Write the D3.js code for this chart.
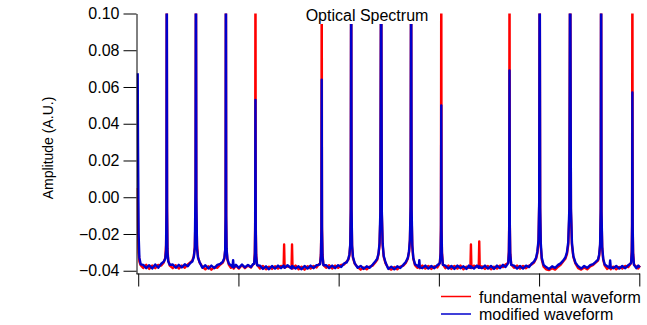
<!DOCTYPE html>
<html>
<head>
<meta charset="utf-8">
<script src="https://cdn.jsdelivr.net/npm/d3@7"></script>
<style>
  html, body { margin: 0; padding: 0; background: #ffffff; }
  svg { display: block; font-family: "Liberation Sans", Arial, sans-serif; }
</style>
</head>
<body>
<svg id="chart" width="647" height="325"></svg>
<script>
// ---- Data ----
// Frequency positions (arbitrary units, one unlabeled tick per unit)
const freq = [
  -0.005, -0.002, 0.004, 0.012, 0.025,
  0.05, 0.08, 0.11, 0.14, 0.17, 0.20, 0.23,
  0.255, 0.270, 0.278, 0.282, 0.285, 0.288, 0.292, 0.300, 0.315,
  0.345, 0.375, 0.405, 0.435, 0.465, 0.495, 0.520,
  0.540, 0.555, 0.565, 0.572, 0.576, 0.580, 0.587, 0.597, 0.612,
  0.640, 0.670, 0.700, 0.730, 0.760, 0.790, 0.820,
  0.845, 0.860, 0.868, 0.872, 0.875, 0.878, 0.882, 0.890, 0.905,
  0.925, 0.941, 0.947, 0.953, 0.975, 1.005, 1.035, 1.065, 1.095, 1.125, 1.145,
  1.157, 1.164, 1.167, 1.170, 1.173, 1.177, 1.186,
  1.215, 1.245, 1.275, 1.305, 1.335, 1.365, 1.395, 1.425, 1.451, 1.456, 1.461, 1.490, 1.530, 1.535, 1.540, 1.570, 1.600, 1.630, 1.660, 1.690, 1.720, 1.750, 1.780, 1.800,
  1.815, 1.823, 1.828, 1.831, 1.834, 1.839, 1.848,
  1.875, 1.905, 1.935, 1.965, 1.995, 2.025, 2.055, 2.080,
  2.097, 2.108, 2.116, 2.121, 2.125, 2.129, 2.134, 2.143, 2.160,
  2.190, 2.220, 2.250, 2.280, 2.310, 2.340, 2.365,
  2.385, 2.398, 2.408, 2.416, 2.424, 2.431, 2.439, 2.450, 2.468,
  2.495, 2.525, 2.555, 2.585, 2.615, 2.645, 2.670,
  2.690, 2.702, 2.711, 2.718, 2.723, 2.728, 2.735, 2.745, 2.762,
  2.785, 2.800, 2.805, 2.810, 2.835, 2.865, 2.895, 2.925, 2.955, 2.985, 3.003,
  3.010, 3.017, 3.021, 3.024, 3.027, 3.031, 3.040,
  3.065, 3.095, 3.125, 3.155, 3.185, 3.215, 3.245, 3.275, 3.300, 3.315, 3.320, 3.325, 3.350, 3.380, 3.398, 3.403, 3.408, 3.430, 3.460, 3.490, 3.520, 3.550, 3.580, 3.610, 3.640, 3.665, 3.685,
  3.692, 3.699, 3.702, 3.705, 3.708, 3.712, 3.722,
  3.750, 3.780, 3.810, 3.840, 3.870, 3.900, 3.925, 3.950,
  3.970, 3.983, 3.994, 4.001, 4.006, 4.011, 4.017, 4.027, 4.045,
  4.070, 4.100, 4.130, 4.160, 4.190, 4.215, 4.240,
  4.262, 4.278, 4.291, 4.302, 4.310, 4.318, 4.328, 4.342, 4.362,
  4.390, 4.420, 4.450, 4.480, 4.510, 4.540, 4.565,
  4.588, 4.600, 4.609, 4.615, 4.619, 4.623, 4.630, 4.640, 4.655,
  4.680, 4.703, 4.709, 4.715, 4.740, 4.770, 4.800, 4.830, 4.860, 4.890, 4.910,
  4.918, 4.925, 4.928, 4.931, 4.934, 4.938, 4.947,
  4.970, 4.990, 5.005
];

// fundamental waveform amplitude (A.U.)
const fundamental = [
  0.005, -0.012, -0.030, -0.035, -0.037,
  -0.0385, -0.0368, -0.0390, -0.0372, -0.0386, -0.0368, -0.0372,
  -0.0355, -0.0330, -0.026, -0.005, 0.15, -0.005, -0.028, -0.0345, -0.0372,
  -0.0386, -0.0370, -0.0388, -0.0372, -0.0384, -0.0366, -0.0355,
  -0.0345, -0.0320, -0.0270, -0.0100, 0.15, -0.008, -0.026, -0.0325, -0.0355,
  -0.0378, -0.0392, -0.0376, -0.0394, -0.0380, -0.0384, -0.0366,
  -0.0355, -0.0335, -0.0290, -0.012, 0.15, -0.012, -0.029, -0.0340, -0.0368,
  -0.0384, -0.0370, -0.0378, -0.0388, -0.0372, -0.0388, -0.0370, -0.0386, -0.0372, -0.0382, -0.0368,
  -0.0360, -0.030, -0.015, 0.15, -0.015, -0.031, -0.0368,
  -0.0388, -0.0374, -0.0392, -0.0378, -0.0390, -0.0376, -0.0388, -0.0374, -0.0380, -0.0257, -0.0382, -0.0376, -0.0384, -0.0257, -0.0388, -0.0372, -0.0392, -0.0378, -0.0394, -0.0376, -0.0388, -0.0374, -0.0382, -0.0366,
  -0.0360, -0.031, -0.016, 0.15, -0.016, -0.031, -0.0368,
  -0.0384, -0.0370, -0.0388, -0.0372, -0.0384, -0.0368, -0.0366, -0.0350,
  -0.0340, -0.0315, -0.0260, -0.008, 0.15, -0.008, -0.027, -0.0330, -0.0362,
  -0.0380, -0.0394, -0.0382, -0.0392, -0.0378, -0.0372, -0.0355,
  -0.0340, -0.0310, -0.0260, -0.012, 0.15, -0.010, -0.026, -0.0325, -0.0360,
  -0.0385, -0.0394, -0.0380, -0.0392, -0.0378, -0.0372, -0.0358,
  -0.0335, -0.0300, -0.0240, -0.008, 0.15, -0.010, -0.027, -0.0335, -0.0370,
  -0.0384, -0.0372, -0.0378, -0.0386, -0.0372, -0.0388, -0.0374, -0.0390, -0.0376, -0.0382, -0.0365,
  -0.0355, -0.030, -0.015, 0.15, -0.015, -0.030, -0.0365,
  -0.0386, -0.0372, -0.0390, -0.0374, -0.0388, -0.0372, -0.0392, -0.0378, -0.0384, -0.0380, -0.0257, -0.0386, -0.0372, -0.0380, -0.0376, -0.0240, -0.0384, -0.0376, -0.0390, -0.0374, -0.0392, -0.0378, -0.0388, -0.0372, -0.0380, -0.0366, -0.0360,
  -0.0355, -0.029, -0.014, 0.15, -0.014, -0.030, -0.0366,
  -0.0384, -0.0372, -0.0388, -0.0374, -0.0386, -0.0372, -0.0366, -0.0355,
  -0.0335, -0.0305, -0.0245, -0.005, 0.15, -0.008, -0.027, -0.0340, -0.0378,
  -0.0392, -0.0396, -0.0386, -0.0394, -0.0378, -0.0368, -0.0350,
  -0.0335, -0.0310, -0.0260, -0.010, 0.15, -0.008, -0.026, -0.0325, -0.0360,
  -0.0386, -0.0394, -0.0382, -0.0392, -0.0376, -0.0368, -0.0356,
  -0.0345, -0.0318, -0.0265, -0.008, 0.15, -0.010, -0.028, -0.0340, -0.0372,
  -0.0390, -0.0376, -0.0384, -0.0392, -0.0378, -0.0392, -0.0380, -0.0388, -0.0374, -0.0380, -0.0365,
  -0.0355, -0.029, -0.014, 0.15, -0.014, -0.030, -0.0366,
  -0.0378, -0.0388, -0.0372
];

// modified waveform amplitude (A.U.)
const modified = [
  0.0675, 0.030, -0.020, -0.033, -0.0365,
  -0.0368, -0.0386, -0.0370, -0.0388, -0.0366, -0.0384, -0.0362,
  -0.0350, -0.0335, -0.029, -0.008, 0.15, -0.008, -0.030, -0.0350, -0.0368,
  -0.0366, -0.0384, -0.0368, -0.0382, -0.0365, -0.0375, -0.0358,
  -0.0350, -0.0325, -0.0275, 0.006, 0.15, 0.000, -0.028, -0.0330, -0.0352,
  -0.0384, -0.0370, -0.0388, -0.0372, -0.0386, -0.0368, -0.0362,
  -0.0350, -0.0330, -0.0285, -0.010, 0.15, -0.010, -0.028, -0.0335, -0.0362,
  -0.0370, -0.0380, -0.0342, -0.0382, -0.0368, -0.0384, -0.0366, -0.0382, -0.0368, -0.0380, -0.0364,
  -0.0362, -0.031, -0.018, 0.053, -0.018, -0.032, -0.0370,
  -0.0372, -0.0390, -0.0376, -0.0392, -0.0374, -0.0388, -0.0372, -0.0386, -0.0372, -0.0378, -0.0384, -0.0370, -0.0388, -0.0374, -0.0376, -0.0388, -0.0376, -0.0392, -0.0374, -0.0388, -0.0372, -0.0386, -0.0370, -0.0368,
  -0.0364, -0.032, -0.018, 0.064, -0.018, -0.032, -0.0370,
  -0.0370, -0.0386, -0.0372, -0.0386, -0.0370, -0.0380, -0.0360, -0.0355,
  -0.0335, -0.0310, -0.0255, -0.006, 0.15, -0.006, -0.026, -0.0325, -0.0358,
  -0.0384, -0.0374, -0.0390, -0.0376, -0.0384, -0.0366, -0.0350,
  -0.0335, -0.0305, -0.0250, -0.008, 0.15, -0.008, -0.025, -0.0320, -0.0355,
  -0.0390, -0.0378, -0.0392, -0.0376, -0.0385, -0.0368, -0.0352,
  -0.0330, -0.0295, -0.0230, -0.004, 0.15, -0.006, -0.026, -0.0330, -0.0365,
  -0.0372, -0.0380, -0.0342, -0.0382, -0.0386, -0.0372, -0.0388, -0.0374, -0.0386, -0.0370, -0.0362,
  -0.0358, -0.031, -0.018, 0.050, -0.018, -0.031, -0.0368,
  -0.0372, -0.0388, -0.0374, -0.0390, -0.0372, -0.0386, -0.0376, -0.0390, -0.0372, -0.0384, -0.0376, -0.0380, -0.0388, -0.0372, -0.0384, -0.0376, -0.0380, -0.0386, -0.0372, -0.0388, -0.0374, -0.0390, -0.0372, -0.0386, -0.0368, -0.0380, -0.0364,
  -0.0358, -0.030, -0.016, 0.069, -0.016, -0.031, -0.0368,
  -0.0372, -0.0388, -0.0374, -0.0388, -0.0372, -0.0380, -0.0362, -0.0350,
  -0.0330, -0.0295, -0.0235, -0.003, 0.15, -0.006, -0.025, -0.0330, -0.0368,
  -0.0380, -0.0390, -0.0376, -0.0384, -0.0368, -0.0360, -0.0345,
  -0.0328, -0.0300, -0.0245, -0.006, 0.15, -0.006, -0.025, -0.0320, -0.0355,
  -0.0376, -0.0388, -0.0374, -0.0384, -0.0370, -0.0364, -0.0352,
  -0.0340, -0.0310, -0.0255, -0.006, 0.15, -0.008, -0.027, -0.0335, -0.0366,
  -0.0376, -0.0384, -0.0344, -0.0380, -0.0386, -0.0374, -0.0388, -0.0374, -0.0386, -0.0370, -0.0362,
  -0.0358, -0.030, -0.016, 0.057, -0.016, -0.031, -0.0368,
  -0.0386, -0.0372, -0.0382
];

const yTicks = [-0.04, -0.02, 0.00, 0.02, 0.04, 0.06, 0.08, 0.10];
const xTicks = [0, 1, 2, 3, 4, 5];
const seriesNames = ["fundamental waveform", "modified waveform"];
const seriesColors = ["#ff0000", "#0000cc"];
const titleText = "Optical Spectrum";
const yLabel = "Amplitude (A.U.)";

// ---- Layout ----
const svg = d3.select("#chart");
const plotL = 136.5, plotR = 640, plotT = 13.5, plotB = 273.5;

const x = d3.scaleLinear().domain([-0.017, 5.007]).range([plotL, plotR]);
const y = d3.scaleLinear().domain([-0.0415, 0.10]).range([plotB, plotT]);

svg.append("defs").append("clipPath").attr("id", "plotClip")
  .append("rect").attr("x", plotL).attr("y", plotT)
  .attr("width", plotR - plotL + 2).attr("height", plotB - plotT);

const n = Math.min(freq.length, fundamental.length, modified.length);

const line = d3.line().x(d => x(d[0])).y(d => y(d[1]));
const seriesData = [fundamental, modified].map(vals =>
  d3.range(n).map(i => [freq[i], vals[i]]));

const plot = svg.append("g").attr("clip-path", "url(#plotClip)");
seriesData.forEach((pts, k) => {
  plot.append("path")
    .datum(pts)
    .attr("fill", "none")
    .attr("stroke", seriesColors[k])
    .attr("stroke-width", 2.4)
    .attr("stroke-linejoin", "round")
    .attr("d", line);
});

// Axes
const yAxis = d3.axisLeft(y).tickValues(yTicks).tickFormat(d3.format(".2f"))
  .tickSize(13).tickSizeOuter(0).tickPadding(4);
const gy = svg.append("g").attr("transform", `translate(${plotL},0)`).call(yAxis);
gy.selectAll("text").attr("font-size", 16).attr("fill", "#000")
  .attr("font-family", "Liberation Sans, Arial, sans-serif");
gy.selectAll("line, path").attr("stroke", "#000");

const xAxis = d3.axisBottom(x).tickValues(xTicks).tickFormat(() => "")
  .tickSize(13).tickSizeOuter(0);
const gx = svg.append("g").attr("transform", `translate(0,${plotB})`).call(xAxis);
gx.selectAll("line, path").attr("stroke", "#000");
gx.select("path.domain").attr("d", `M${plotL},0.5H${plotR}`);

// Title with opaque white box (hides the peaks behind it, as in the reference)
const titleG = svg.append("g");
const titleBox = titleG.append("rect").attr("fill", "#ffffff");
const title = titleG.append("text").attr("x", 367).attr("y", 20.5)
  .attr("text-anchor", "middle").attr("font-size", 16).attr("fill", "#000")
  .text(titleText);
const tb = title.node().getBBox();
titleBox.attr("x", tb.x - 4).attr("y", 0)
  .attr("width", tb.width + 8).attr("height", 24);

// Y label
svg.append("text")
  .attr("transform", "translate(52.5,148) rotate(-90)")
  .attr("text-anchor", "middle").attr("font-size", 14).attr("fill", "#000")
  .text(yLabel);

// Legend
const legend = svg.append("g");
seriesNames.forEach((name, k) => {
  const ly = 296.5 + k * 17.5;
  legend.append("line").attr("x1", 441).attr("x2", 471)
    .attr("y1", ly).attr("y2", ly)
    .attr("stroke", seriesColors[k]).attr("stroke-width", 1.5);
  legend.append("text").attr("x", 479).attr("y", ly + 6)
    .attr("font-size", 16).attr("fill", "#000").text(name);
});
</script>
</body>
</html>
